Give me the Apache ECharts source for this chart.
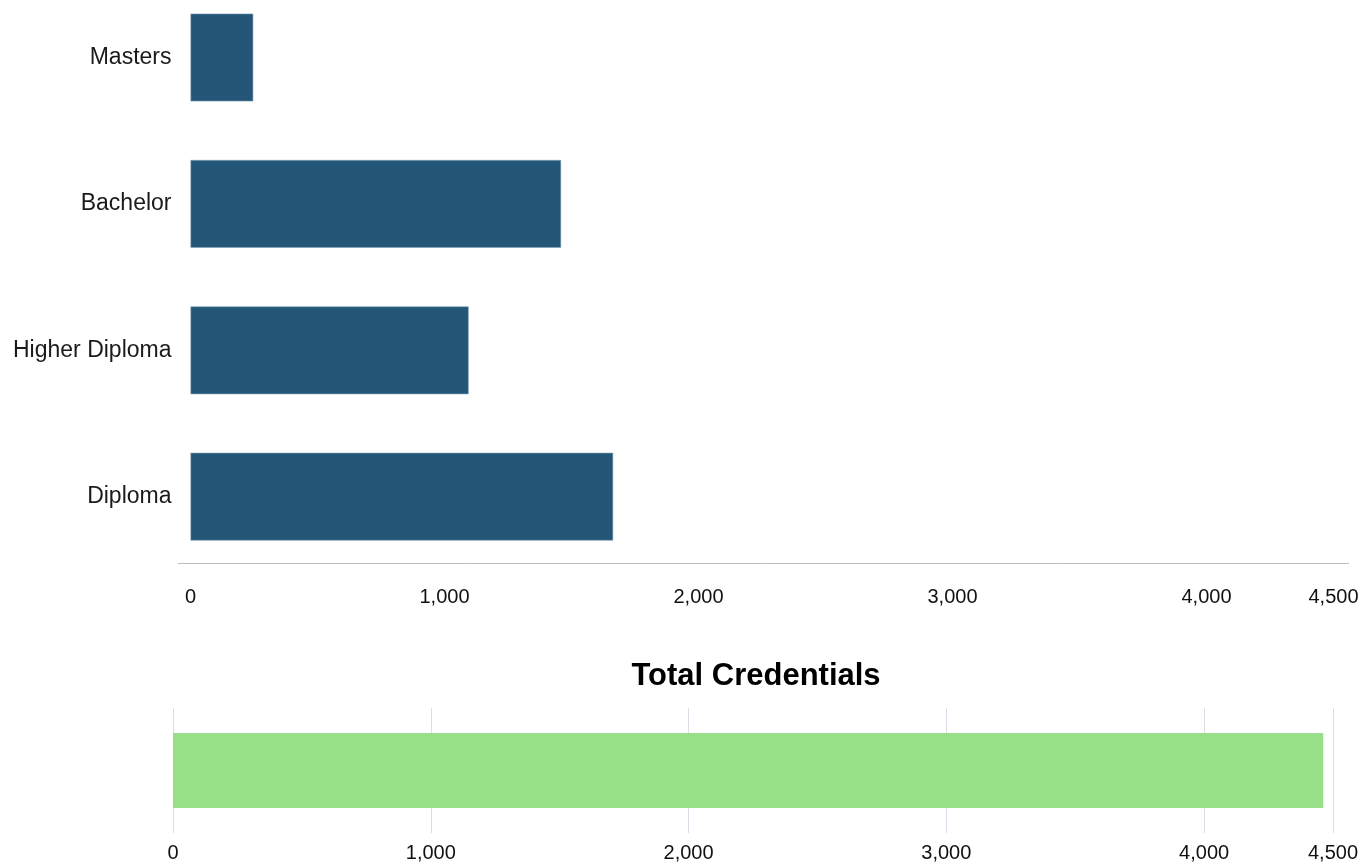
<!DOCTYPE html>
<html>
<head>
<meta charset="utf-8">
<script src="https://cdn.jsdelivr.net/npm/echarts@6/dist/echarts.min.js"></script>
<style>
html,body{margin:0;padding:0;background:#fff;}
#chart{width:1365px;height:864px;}
</style>
</head>
<body>
<div id="chart"></div>
<script>
const categories = ['Masters', 'Bachelor', 'Higher Diploma', 'Diploma'];
const credentialValues = [247, 1459, 1095, 1664];
const totalCategories = ['Total'];
const totalValues = [4462];
const axisMin = 0;
const axisMax = 4500;
const axisInterval = 1000;
const totalTitle = 'Total Credentials';

const FONT = 'Liberation Sans, Arial, sans-serif';
const chart = echarts.init(document.getElementById('chart'), null, {renderer: 'canvas'});

const tickFmt = v => v.toLocaleString('en-US');

chart.setOption({
  animation: false,
  backgroundColor: '#ffffff',
  title: {
    text: totalTitle,
    left: 751,
    top: 656,
    textAlign: 'center',
    textStyle: {fontFamily: FONT, fontSize: 31, fontWeight: 'bold', color: '#000'}
  },
  graphic: [{
    type: 'line',
    shape: {x1: 178, y1: 563.5, x2: 1349, y2: 563.5},
    style: {stroke: '#bdbdbd', lineWidth: 1},
    silent: true
  }],
  grid: [
    {left: 190.5, width: 1143, top: -15.7, height: 585.6, outerBoundsMode: 'none', containLabel: false},
    {left: 173, width: 1160, top: 708, height: 125, outerBoundsMode: 'none', containLabel: false}
  ],
  xAxis: [
    {
      gridIndex: 0, type: 'value', min: axisMin, max: axisMax, interval: axisInterval,
      axisLine: {show: false}, axisTick: {show: false}, splitLine: {show: false},
      axisLabel: {fontFamily: FONT, fontSize: 20, color: '#111', margin: 18, formatter: tickFmt}
    },
    {
      gridIndex: 1, type: 'value', min: axisMin, max: axisMax, interval: axisInterval,
      axisLine: {show: false}, axisTick: {show: false},
      splitLine: {show: true, lineStyle: {color: '#dcdce8', width: 1}},
      axisLabel: {fontFamily: FONT, fontSize: 20, color: '#111', margin: 10, formatter: tickFmt}
    }
  ],
  yAxis: [
    {
      gridIndex: 0, type: 'category', data: categories, inverse: true,
      axisLine: {show: false}, axisTick: {show: false},
      axisLabel: {fontFamily: FONT, fontSize: 23, color: '#1a1a1a', margin: 19}
    },
    {
      gridIndex: 1, type: 'category', data: totalCategories,
      axisLine: {show: false}, axisTick: {show: false}, axisLabel: {show: false}
    }
  ],
  series: [
    {
      type: 'bar', xAxisIndex: 0, yAxisIndex: 0, data: credentialValues,
      barWidth: '60%',
      itemStyle: {color: '#245677', borderColor: '#7fa3bb', borderWidth: 0.6}
    },
    {
      type: 'bar', xAxisIndex: 1, yAxisIndex: 1, data: totalValues,
      barWidth: '60%',
      itemStyle: {color: '#98df8a'}
    }
  ]
});
</script>
</body>
</html>
